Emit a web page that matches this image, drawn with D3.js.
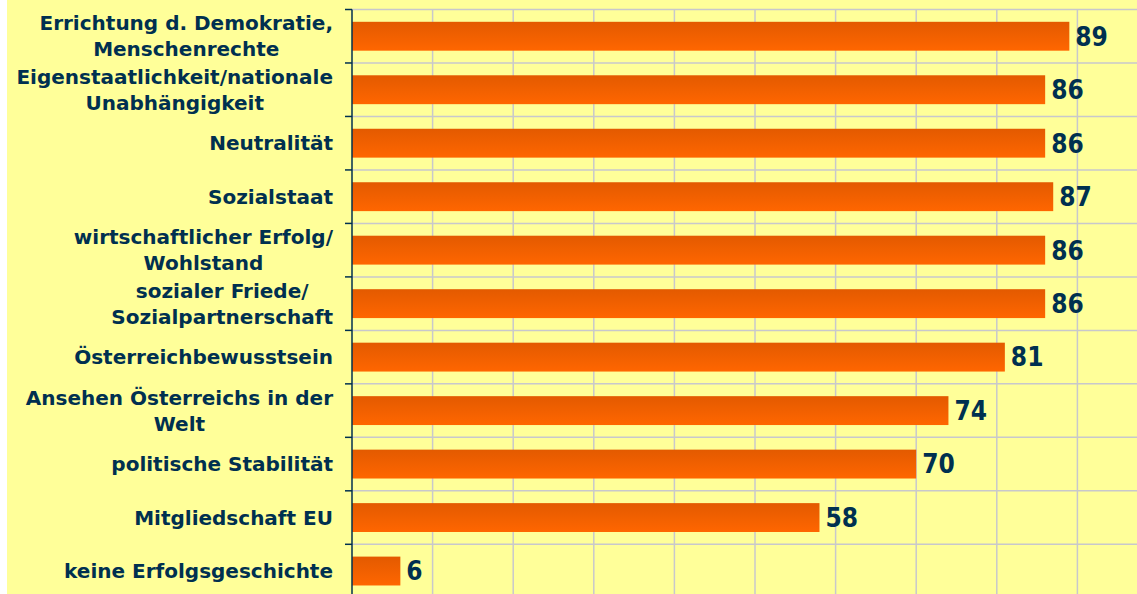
<!DOCTYPE html>
<html>
<head>
<meta charset="utf-8">
<script src="https://cdn.jsdelivr.net/npm/d3@7"></script>
<style>
  html, body { margin: 0; padding: 0; background: #ffffff; }
  svg { display: block; }
  text { font-weight: bold; fill: #003050; }
  .cat { font-family: "DejaVu Sans", sans-serif; }
  .val { font-family: "DejaVu Sans Condensed", "DejaVu Sans", sans-serif; }
</style>
</head>
<body>
<svg width="1137" height="594"></svg>
<script>
var categories = [
  ["Errichtung d. Demokratie,", "Menschenrechte"],
  ["Eigenstaatlichkeit/nationale", "Unabhängigkeit"],
  ["Neutralität"],
  ["Sozialstaat"],
  ["wirtschaftlicher Erfolg/", "Wohlstand"],
  ["sozialer Friede/", "Sozialpartnerschaft"],
  ["Österreichbewusstsein"],
  ["Ansehen Österreichs in der", "Welt"],
  ["politische Stabilität"],
  ["Mitgliedschaft EU"],
  ["keine Erfolgsgeschichte"]
];
var values = [89, 86, 86, 87, 86, 86, 81, 74, 70, 58, 6];
var gridTicks = [0, 10, 20, 30, 40, 50, 60, 70, 80, 90, 100];

var svg = d3.select("svg");

svg.append("rect")
  .attr("x", 7).attr("y", 0)
  .attr("width", 1130).attr("height", 594)
  .attr("fill", "#ffff99");

var defs = svg.append("defs");
var grad = defs.append("linearGradient")
  .attr("id", "barGrad")
  .attr("x1", 0).attr("y1", 0).attr("x2", 0).attr("y2", 1);
grad.append("stop").attr("offset", "0%").attr("stop-color", "#e35a00");
grad.append("stop").attr("offset", "100%").attr("stop-color", "#ff6600");

var x = d3.scaleLinear().domain([0, 100]).range([352, 1158]);
var y = d3.scaleBand()
  .domain(d3.range(categories.length))
  .range([9.5, 9.5 + 53.48 * categories.length])
  .paddingInner(0.46)
  .paddingOuter(0.23);

// band boundaries for horizontal gridlines and ticks
var bounds = d3.range(categories.length + 1).map(function (i) { return 9.5 + i * y.step(); });

var grid = svg.append("g");
grid.selectAll("line.v")
  .data(gridTicks.slice(1))
  .enter()
  .append("line")
  .attr("class", "v")
  .attr("x1", function (d) { return x(d); })
  .attr("x2", function (d) { return x(d); })
  .attr("y1", 9.5)
  .attr("y2", 594)
  .attr("stroke", "#c8c8cc")
  .attr("stroke-width", 1.5);
grid.selectAll("line.h")
  .data(bounds)
  .enter()
  .append("line")
  .attr("class", "h")
  .attr("x1", 352)
  .attr("x2", 1137)
  .attr("y1", function (d) { return d; })
  .attr("y2", function (d) { return d; })
  .attr("stroke", "#c8c8cc")
  .attr("stroke-width", 1.5);

// bars
svg.append("g")
  .selectAll("rect")
  .data(values)
  .enter()
  .append("rect")
  .attr("x", x(0))
  .attr("y", function (d, i) { return y(i); })
  .attr("width", function (d) { return x(d) - x(0); })
  .attr("height", y.bandwidth())
  .attr("fill", "url(#barGrad)");

// value labels
svg.append("g")
  .selectAll("text")
  .data(values)
  .enter()
  .append("text")
  .attr("class", "val")
  .attr("x", function (d) { return x(d) + 6; })
  .attr("y", function (d, i) { return y(i) + y.bandwidth() / 2; })
  .attr("dy", "0.36em")
  .style("font-size", "26px")
  .text(function (d) { return d; });

// axis line and ticks
var axis = svg.append("g").attr("stroke", "#003050").attr("stroke-width", 1.5);
axis.append("line")
  .attr("x1", 352).attr("x2", 352)
  .attr("y1", 9.5).attr("y2", 594);
axis.selectAll("line.t")
  .data(bounds)
  .enter()
  .append("line")
  .attr("class", "t")
  .attr("x1", 345).attr("x2", 352)
  .attr("y1", function (d) { return d; })
  .attr("y2", function (d) { return d; });

// category labels: multi-line blocks, lines centered, block right-aligned
var labelRight = 333;
var lineH = 26;
var labels = svg.append("g");
categories.forEach(function (lines, i) {
  var cy = y(i) + y.bandwidth() / 2;
  var t = labels.append("text").attr("class", "cat").style("font-size", "20px");
  var spans = t.selectAll("tspan")
    .data(lines)
    .enter()
    .append("tspan")
    .attr("text-anchor", "middle")
    .attr("y", function (d, j) { return cy + (j - (lines.length - 1) / 2) * lineH; })
    .attr("dy", "0.36em")
    .text(function (d) { return d; });
  var maxW = 0;
  spans.each(function () { maxW = Math.max(maxW, this.getComputedTextLength()); });
  spans.attr("x", labelRight - maxW / 2);
});
</script>
</body>
</html>
